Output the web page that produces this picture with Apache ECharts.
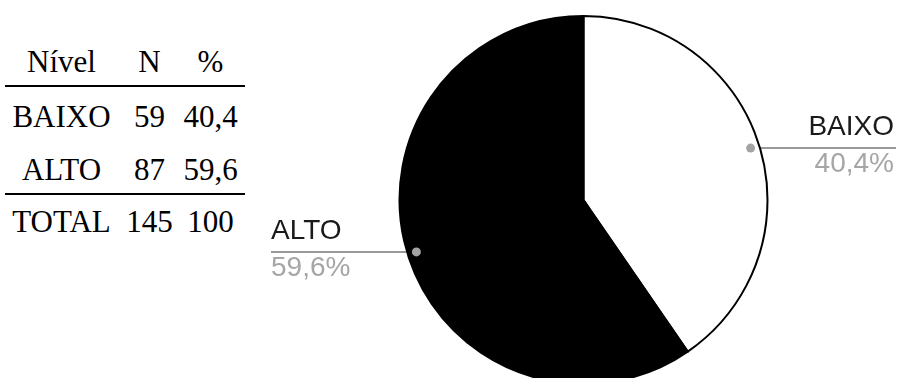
<!DOCTYPE html>
<html>
<head>
<meta charset="utf-8">
<title>Nível</title>
<script src="https://cdn.jsdelivr.net/npm/echarts@6/dist/echarts.min.js"></script>
<style>
  html, body { margin: 0; padding: 0; background: #fff; }
  #page { position: relative; width: 897px; height: 378px; overflow: hidden; }
  #tabela { position: absolute; left: 5px; top: 0; width: 240px; font-family: 'Liberation Serif', 'Times New Roman', serif; font-size: 31px; color: #000; }
  .linha { position: absolute; left: 0; height: 34px; line-height: 34px; white-space: nowrap; }
  .linha span { display: inline-block; text-align: center; }
  .regra { position: absolute; left: 0; width: 240px; height: 2px; background: #000; }
  #grafico { position: absolute; left: 271px; top: 0; width: 625px; height: 378px; }
</style>
</head>
<body>
<div id="page">
  <div id="tabela"></div>
  <div id="grafico"></div>
</div>
<script>
// dados
const cabecalho = ['Nível', 'N', '%'];
const niveis = ['BAIXO', 'ALTO'];
const contagens = [59, 87];
const percentuais = ['40,4', '59,6'];
const linhaTotal = ['TOTAL', '145', '100'];

// tabela à esquerda
const larguraColunas = [113, 63, 59];
const topoLinhas = [44.5, 100, 152.5, 204.5];
const topoRegras = [85, 193];
const linhas = [cabecalho].concat(niveis.map((n, i) => [n, contagens[i], percentuais[i]]), [linhaTotal]);
const tabela = document.getElementById('tabela');
linhas.forEach((cols, r) => {
  const div = document.createElement('div');
  div.className = 'linha';
  div.style.top = topoLinhas[r] + 'px';
  cols.forEach((txt, c) => {
    const span = document.createElement('span');
    span.style.width = larguraColunas[c] + 'px';
    span.textContent = txt;
    div.appendChild(span);
  });
  tabela.appendChild(div);
});
topoRegras.forEach(t => {
  const d = document.createElement('div');
  d.className = 'regra';
  d.style.top = t + 'px';
  tabela.appendChild(d);
});

// gráfico de pizza
const cores = ['#ffffff', '#000000'];
const centro = [312.5, 200];
const raio = 184;
const raioPonto = 175;
const soma = contagens.reduce((a, b) => a + b, 0);

const chart = echarts.init(document.getElementById('grafico'));
const largura = chart.getWidth();

// ponto no ângulo médio da fatia (horário a partir do topo), um pouco para dentro
function pontoInterno(i) {
  let antes = 0;
  for (let k = 0; k < i; k++) antes += contagens[k];
  const ang = -Math.PI / 2 + 2 * Math.PI * (antes + contagens[i] / 2) / soma;
  return [centro[0] + raioPonto * Math.cos(ang), centro[1] + raioPonto * Math.sin(ang)];
}

chart.setOption({
  animation: false,
  graphic: niveis.map((n, i) => {
    const p = pontoInterno(i);
    return {
      type: 'circle',
      z: 100,
      silent: true,
      shape: { cx: p[0], cy: p[1], r: 4.5 },
      style: { fill: '#a3a3a3' }
    };
  }),
  series: [{
    type: 'pie',
    center: centro,
    radius: raio,
    startAngle: 90,
    clockwise: true,
    silent: true,
    emphasis: { disabled: true },
    data: niveis.map((n, i) => ({ name: n, value: contagens[i], itemStyle: { color: cores[i] } })),
    itemStyle: { borderColor: '#000', borderWidth: 2 },
    label: {
      position: 'outside',
      overflow: 'none',
      fontFamily: 'Liberation Sans, Arial, sans-serif',
      formatter: p => '{n|' + p.name + '}\n{p|' + p.percent.toFixed(1).replace('.', ',') + '%}',
      rich: {
        n: { fontSize: 28, lineHeight: 37, color: '#1a1a1a', fontFamily: 'Liberation Sans, Arial, sans-serif' },
        p: { fontSize: 28, lineHeight: 37, color: '#a6a6a6', fontFamily: 'Liberation Sans, Arial, sans-serif' }
      }
    },
    labelLine: { show: true, length: 5, length2: 5, lineStyle: { color: '#999', width: 2 } },
    labelLayout: function (params) {
      const p = pontoInterno(params.dataIndex);
      const direita = p[0] > centro[0];
      const borda = direita ? largura : 0;
      return {
        x: direita ? borda - 2 : borda,
        y: p[1] - 2,
        align: direita ? 'right' : 'left',
        verticalAlign: 'middle',
        labelLinePoints: [p, p.slice(), [borda, p[1]]]
      };
    }
  }]
});
</script>
</body>
</html>
